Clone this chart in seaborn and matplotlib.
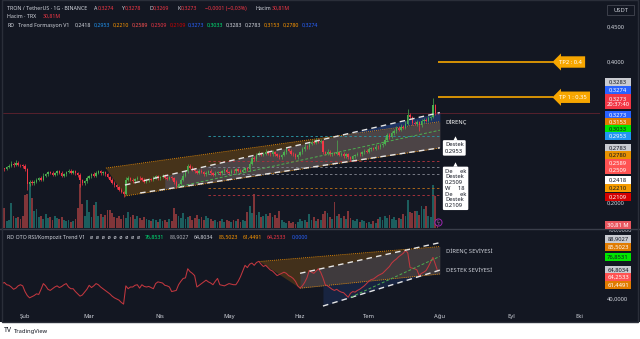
import numpy as np
import pandas as pd
import matplotlib
matplotlib.use("Agg")
import matplotlib.pyplot as plt
import seaborn as sns
from matplotlib.patches import Rectangle, Polygon
from matplotlib.lines import Line2D

# ---------------- data ----------------
start_date = "2025-01-21"
first_open = 0.2530
close = [
    0.2525, 0.2490, 0.2480, 0.2510, 0.2530, 0.2560, 0.2545, 0.2570, 0.2540, 0.2535, 0.2520,
    0.2480, 0.2270, 0.2300, 0.2280, 0.2300, 0.2330, 0.2350, 0.2330, 0.2390,
    0.2410, 0.2440, 0.2430, 0.2400, 0.2420, 0.2450, 0.2430, 0.2390, 0.2410, 0.2440, 0.2460, 0.2430, 0.2450, 0.2420,
    0.2400, 0.2320, 0.2280, 0.2310, 0.2360, 0.2380, 0.2410, 0.2390, 0.2430, 0.2450, 0.2420, 0.2440, 0.2410,
    0.2370, 0.2330, 0.2290, 0.2250, 0.2220, 0.2190, 0.2160, 0.2130, 0.2330, 0.2350,
    0.2330, 0.2310, 0.2340, 0.2360, 0.2350, 0.2330, 0.2300, 0.2320, 0.2340, 0.2330, 0.2360, 0.2380, 0.2350, 0.2370,
    0.2390, 0.2360, 0.2340, 0.2370, 0.2350,
    0.2300, 0.2240, 0.2270, 0.2330, 0.2390, 0.2450, 0.2520,
    0.2500, 0.2480, 0.2450, 0.2430, 0.2460, 0.2440, 0.2410, 0.2430, 0.2450, 0.2420, 0.2400, 0.2430, 0.2440, 0.2420,
    0.2450, 0.2470, 0.2440, 0.2430, 0.2460, 0.2450, 0.2480, 0.2460, 0.2440, 0.2470, 0.2490,
    0.2480, 0.2560, 0.2640, 0.2620, 0.2680, 0.2710, 0.2680, 0.2700, 0.2730, 0.2700, 0.2690, 0.2720, 0.2690, 0.2670,
    0.2650, 0.2680, 0.2720,
    0.2760, 0.2740, 0.2700, 0.2690, 0.2650, 0.2680, 0.2720, 0.2760, 0.2800, 0.2790, 0.2840, 0.2870, 0.2850, 0.2890,
    0.2870, 0.2880,
    0.2720, 0.2700, 0.2730, 0.2690, 0.2710, 0.2700, 0.2720, 0.2680, 0.2700, 0.2660, 0.2690, 0.2650, 0.2620, 0.2660,
    0.2680, 0.2700, 0.2690, 0.2720, 0.2740, 0.2730,
    0.2760, 0.2780, 0.2770, 0.2800, 0.2790, 0.2820, 0.2840, 0.2900, 0.2960, 0.2940, 0.2990, 0.3020, 0.3060, 0.3040,
    0.3080, 0.3070, 0.3120, 0.3250, 0.3220, 0.3140, 0.3120, 0.3150, 0.3100, 0.3160, 0.3180, 0.3170, 0.3200, 0.3220,
    0.3390, 0.3274, 0.3273,
]
# wick lengths above / below the candle body, in thousandths of a USDT
up_wick = [
    2, 2, 1, 2, 3, 3, 2, 4, 2, 2, 2, 3, 1, 2, 3, 2, 2, 2, 3, 3, 2, 2, 2, 3,
    2, 2, 2, 3, 2, 2, 2, 2, 2, 2, 2, 2, 2, 2, 3, 2, 2, 3, 2, 2, 2, 2, 2, 2,
    2, 2, 2, 2, 2, 2, 1, 4, 3, 2, 2, 2, 2, 2, 2, 3, 2, 2, 2, 3, 2, 2, 2, 2,
    2, 2, 2, 2, 2, 2, 2, 2, 3, 2, 3, 4, 2, 2, 2, 2, 2, 2, 2, 2, 3, 2, 2, 2,
    2, 2, 3, 2, 2, 2, 2, 2, 2, 2, 2, 2, 2, 3, 3, 2, 3, 3, 2, 2, 3, 2, 2, 3,
    2, 2, 2, 2, 3, 3, 2, 2, 2, 2, 2, 2, 3, 3, 2, 3, 3, 2, 3, 2, 3, 2, 2, 3,
    2, 2, 2, 17, 2, 2, 2, 2, 2, 2, 2, 2, 2, 2, 2, 3, 2, 3, 2, 2, 3, 2, 3, 3,
    3, 3, 3, 3, 3, 3, 3, 4, 3, 4, 8, 3, 2, 3, 3, 2, 3, 2, 3, 3, 2, 10, 1, 0.4,
]
down_wick = [
    2, 2, 2, 1, 2, 2, 3, 2, 2, 2, 2, 2, 8, 3, 2, 2, 2, 2, 2, 2, 2, 2, 2, 2,
    2, 2, 2, 2, 2, 2, 2, 2, 2, 2, 3, 9, 3, 2, 2, 2, 2, 2, 2, 2, 2, 2, 2, 2,
    2, 2, 2, 2, 2, 2, 4, 2, 2, 2, 2, 2, 2, 2, 2, 2, 2, 2, 2, 2, 2, 2, 2, 2,
    2, 2, 2, 2, 3, 3, 2, 2, 2, 2, 2, 2, 2, 2, 2, 2, 2, 2, 2, 2, 2, 2, 2, 2,
    2, 2, 2, 2, 2, 2, 2, 2, 2, 2, 2, 2, 3, 2, 2, 2, 2, 2, 2, 2, 2, 2, 2, 2,
    2, 2, 2, 2, 2, 2, 2, 2, 3, 3, 2, 2, 2, 2, 2, 2, 2, 2, 2, 2, 2, 3, 2, 2,
    2, 2, 2, 2, 2, 2, 2, 2, 3, 3, 2, 2, 2, 2, 2, 2, 2, 2, 2, 2, 2, 2, 2, 2,
    2, 2, 3, 2, 2, 2, 2, 2, 2, 2, 2, 3, 3, 2, 3, 8, 2, 2, 2, 2, 2, 2, 2, 0.4,
]
volume_m = [
    84, 182, 140, 49, 56, 175, 84, 70, 77, 63, 84, 231, 238, 308, 210, 119, 133, 77, 84, 63, 98, 70, 77, 56,
    84, 70, 63, 77, 56, 49, 56, 42, 49, 63, 140, 308, 168, 84, 196, 112, 77, 161, 182, 84, 98, 77, 91, 126,
    126, 105, 77, 70, 84, 63, 91, 70, 112, 77, 91, 63, 84, 70, 56, 77, 63, 56, 49, 63, 56, 42, 63, 49,
    56, 42, 63, 49, 140, 98, 84, 70, 105, 63, 77, 84, 56, 70, 91, 63, 77, 56, 84, 70, 63, 49, 56, 42,
    49, 63, 42, 56, 49, 42, 56, 49, 63, 42, 56, 49, 112, 154, 105, 238, 91, 112, 77, 84, 98, 84, 105, 77,
    91, 70, 119, 56, 42, 35, 49, 35, 42, 28, 42, 63, 49, 56, 42, 98, 56, 77, 49, 63, 56, 98, 119, 105,
    77, 63, 182, 84, 98, 70, 84, 63, 119, 70, 56, 49, 63, 42, 56, 49, 35, 42, 28, 49, 35, 63, 77, 56,
    84, 70, 91, 63, 77, 56, 70, 63, 98, 84, 196, 112, 105, 119, 119, 91, 154, 133, 154, 84, 77, 301, 224, 30.81,
]
rsi = [
    52, 53, 54, 52, 51.5, 50, 48, 49, 51, 52, 51, 46, 42.5, 40.5, 41.5, 42.5, 44, 43.5, 48, 53, 51, 48, 47, 48.5,
    50, 51, 49.5, 50.5, 52, 53, 50, 48.5, 48.5, 46, 44, 42, 43, 45.5, 48, 51.5, 49.5, 51, 53, 52, 50, 48.5, 47, 45.5,
    44, 42, 40.5, 39.5, 38.5, 36.5, 35, 51, 48.5, 50, 50, 51.5, 52, 49, 52, 50.5, 50, 50.5, 49.5, 48.5, 53, 54.5, 54, 53.5,
    51.5, 51, 50, 46, 46.5, 47, 52, 55, 57.5, 58, 66, 63.5, 62, 60, 50, 51.5, 53, 54.5, 56, 54.5, 53.5, 52, 55, 57.5,
    52, 51.5, 51, 52, 53, 52.5, 52, 52, 55, 59, 64, 69, 67, 70, 71, 69, 71.5, 72.5, 70, 68, 69, 67, 65, 64,
    62, 60, 61, 62, 63, 62, 60, 59, 57.5, 55, 51, 49, 51, 54, 58, 64.5, 63, 62, 64, 66, 63, 58, 52, 51,
    49.5, 48, 47, 48, 46.5, 45.5, 45, 43, 41, 44.5, 46, 45.5, 47, 48, 49.5, 51, 53, 55, 56.5, 57, 58.5, 60, 61, 62,
    64, 66, 68, 71, 73, 74.5, 76.5, 78, 79.5, 82, 80, 67, 66.5, 66, 65, 60, 62, 63, 64.5, 68, 72, 76, 70, 64.2533,
]

# overlay lines: (day index, value) end points
price_upper_white = [(54.6, 0.2255), (192.0, 0.3283)]
price_lower_white = [(61.2, 0.2142), (192.0, 0.2783)]
price_green = [(77.3, 0.2227), (192.0, 0.3033)]
price_orange_top = [(46.3, 0.2496), (192.0, 0.3153)]
price_orange_bot = [(54.6, 0.2099), (192.0, 0.2780)]
support_levels = [0.2953, 0.2589, 0.2509, 0.2418, 0.2210, 0.2109]
support_colors = ["#2a8f9c", "#a5313b", "#787b86", "#787b86", "#a8661c", "#a5313b"]
support_start = 90.8
tp_levels = [0.40, 0.35]
tp_names = ["TP2 : 0.4", "TP 1 : 0.35"]
tp_span = (191.0, 241.4)

rsi_upper_white = [(131.0, 62.0), (192.0, 88.9027)]
rsi_lower_white = [(141.0, 33.3), (192.0, 64.8034)]
rsi_green = [(153.2, 41.1), (192.0, 76.8531)]
rsi_orange_top = [(113.3, 72.4), (192.0, 85.5023)]
rsi_orange_bot = [(131.0, 49.0), (192.0, 61.4491)]
rsi_texts = [("DİRENÇ SEVİYESİ", 81.1), ("DESTEK SEVİYESİ", 64.6)]

month_names = ["Şub", "Mar", "Nis", "May", "Haz", "Tem", "Ağu", "Eyl", "Eki"]
price_ticks = [0.45, 0.40, 0.20]
rsi_ticks = [100, 40]

price_tags = [
    ("0,3283", 82, "#c9cbd1", "#131722"), ("0,3274", 90, "#2962ff", "white"),
    ("0,3273\n20:37:40", 102, "#f23645", "white"), ("0,3273", 115, "#2962ff", "white"),
    ("0,3153", 122, "#e07b00", "white"), ("0,3033", 129, "#00e600", "#131722"),
    ("0,2953", 136, "#2196f3", "white"), ("0,2783", 148, "#c9cbd1", "#131722"),
    ("0,2780", 155, "#e89200", "#131722"), ("0,2589", 163, "#ff5252", "white"),
    ("0,2509", 170, "#ff5252", "white"), ("0,2418", 180, "#ffffff", "#131722"),
    ("0,2210", 188, "#f59b00", "#131722"), ("0,2109", 197, "#d50000", "white"),
    ("30,81 M", 225, "#e8575f", "white"),
    ("88,9027", 239, "#c9cbd1", "#131722"), ("85,5023", 247, "#e07b00", "white"),
    ("76,8531", 257, "#00e600", "#131722"), ("64,8034", 270, "#c9cbd1", "#131722"),
    ("64,2533", 277, "#ff5252", "white"), ("61,4491", 285, "#e07b00", "white"),
]
trend_values = ["0,2418", "0,2953", "0,2210", "0,2589", "0,2509", "0,2109", "0,3273",
                "0,3033", "0,3283", "0,2783", "0,3153", "0,2780", "0,3274"]
trend_colors = ["#d1d4dc", "#2196f3", "#ff9800", "#ff5252", "#f23645", "#d50000", "#2962ff",
                "#00e676", "#d1d4dc", "#d1d4dc", "#ff9800", "#ff9800", "#2962ff"]
rsi_values = ["76,8531", "88,9027", "64,8034", "85,5023", "61,4491", "64,2533", "0,0000"]
rsi_value_colors = ["#00e676", "#b2b5be", "#d1d4dc", "#ff9800", "#ff9800", "#f23645", "#2962ff"]

# ---------------- style ----------------
BG = "#131722"
FG = "#d1d4dc"
RED = "#f23645"
GREEN = "#4caf50"
FS = 4.2
FS_H = 3.8
sns.set_theme(style="dark", rc={"axes.facecolor": BG, "figure.facecolor": "white",
                                 "axes.grid": False})
plt.rcParams["font.family"] = ["Noto Sans", "DejaVu Sans"]

W, H = 640, 339
fig = plt.figure(figsize=(6.4, 3.39), dpi=100)


def fx(x):
    return x / W


def fy(y):
    return 1 - y / H


def rect_px(x0, y0, x1, y1):
    return [x0 / W, 1 - y1 / H, (x1 - x0) / W, (y1 - y0) / H]


fig.add_artist(Rectangle((0, fy(322)), 1, 322 / H, transform=fig.transFigure,
                         facecolor=BG, edgecolor="none", zorder=-10))

dates = pd.date_range(start_date, periods=len(close), freq="D")
t = np.asarray((dates - dates[0]).days, dtype=float)
c = np.asarray(close)
o = np.r_[first_open, c[:-1]]
hi = np.maximum(o, c) + np.asarray(up_wick) / 1000
lo = np.minimum(o, c) - np.asarray(down_wick) / 1000
up = c >= o

ax_vol = fig.add_axes(rect_px(3, 3, 600, 228))
ax = fig.add_axes(rect_px(3, 3, 600, 228), sharex=ax_vol)
ax_rsi = fig.add_axes(rect_px(3, 230, 600, 310), sharex=ax_vol)
ax.patch.set_visible(False)
for a in (ax_vol, ax, ax_rsi):
    for s in a.spines.values():
        s.set_visible(False)

# ---- volume (seaborn bars) ----
vol_df = pd.DataFrame({"t": t, "vol": volume_m, "dir": np.where(up, "up", "down")})
sns.barplot(data=vol_df, x="t", y="vol", hue="dir", native_scale=True, dodge=False,
            palette={"up": "#26a69a", "down": "#ef5350"}, saturation=1, alpha=0.5,
            width=0.8, legend=False, ax=ax_vol, linewidth=0, err_kws={"linewidth": 0})
ax_vol.set_ylim(0, 1575)
ax_vol.set_yticks([])
ax_vol.set_xlabel("")
ax_vol.set_ylabel("")
ax_vol.tick_params(labelbottom=False, length=0)

# ---- price overlays ----
def seg(pts, tt):
    (x0, y0), (x1, y1) = pts
    return y0 + (y1 - y0) * (tt - x0) / (x1 - x0)


ax.add_patch(Polygon([price_orange_top[0], price_orange_top[1], price_orange_bot[1], price_orange_bot[0]],
                     closed=True, facecolor="#ff9800", alpha=0.22, edgecolor="none", zorder=1))
tt = np.linspace(72, 192, 300)
ax.fill_between(tt, seg(price_lower_white, tt),
                np.minimum(seg(price_upper_white, tt), seg(price_orange_top, tt)),
                color="#4d4649", alpha=0.95, lw=0, zorder=1.5)
tb = np.linspace(148.4, 192, 100)
ax.fill_between(tb, seg(price_orange_top, tb), seg(price_upper_white, tb),
                color="#1f3566", alpha=0.95, lw=0, zorder=1.5)

for pts in (price_orange_top, price_orange_bot):
    ax.plot(*zip(*pts), color="#ff9800", lw=0.6, ls=(0, (1, 1.5)), zorder=2)
ax.plot(*zip(*price_upper_white), color="#e6e6e6", lw=1.0, ls=(0, (4, 3)), zorder=6)
ax.plot(*zip(*price_lower_white), color="#e6e6e6", lw=1.0, ls=(0, (4, 3)), zorder=6)
ax.plot(*zip(*price_green), color="#4caf50", lw=0.7, ls=(0, (3, 2)), zorder=6)
ax.hlines(support_levels, support_start, 192, colors=support_colors, lw=0.7,
          linestyles=(0, (2.5, 2.5)), zorder=2)
ax.axhline(c[-1], color=RED, alpha=0.35, lw=0.6, zorder=2)
ax.hlines(tp_levels, tp_span[0], tp_span[1], colors="#f7a600", lw=1.2, zorder=3)

# ---- candles ----
cols = np.where(up, GREEN, RED)
ax.vlines(t, lo, hi, colors=cols, lw=0.5, zorder=4)
ax.bar(t, c - o, bottom=o, width=0.62, color=cols, linewidth=0, zorder=5)

ax.set_xlim(1.40, 261.87)
ax.set_ylim(0.16454, 0.48369)
ax.yaxis.tick_right()
ax.set_yticks(price_ticks)
ax.set_yticklabels([f"{v:.4f}".replace(".", ",") for v in price_ticks])
ax.tick_params(axis="y", length=0, pad=5, labelsize=FS, labelcolor=FG)
ax.tick_params(axis="x", labelbottom=False, length=0)

for lvl, name in zip(tp_levels, tp_names):
    ax.text(244.0, lvl, name, fontsize=FS, color="white", ha="left", va="center", zorder=8,
            bbox=dict(boxstyle="larrow,pad=0.55", fc="#f7a600", ec="none"))
ax.text(194.6, 0.3153, "DİRENÇ", fontsize=FS, color="white", ha="left", va="center", zorder=8)
ax.annotate("Destek\n0.2953", xy=(194.2, 0.2953), xytext=(0, -4.6), textcoords="offset points",
            fontsize=FS, color="#131722", ha="left", va="top", linespacing=1.35, zorder=8,
            bbox=dict(boxstyle="round,pad=0.35,rounding_size=0.2", fc="white", ec="none"))
ax.annotate("De     ek\nDestek\n0.2509\nW     18\nDe     ek\nDestek\n0.2109", xy=(194.2, 0.2589),
            xytext=(0, -5.2), textcoords="offset points", fontsize=FS, color="#131722",
            ha="left", va="top", linespacing=1.18, zorder=8,
            bbox=dict(boxstyle="round,pad=0.35,rounding_size=0.2", fc="white", ec="none"))
ax.scatter([198.5, 198.5], [0.2953 - 0.0030, 0.2589 - 0.0030], marker="^", s=10,
           color="white", zorder=9, linewidths=0)
ax.scatter([191.2], [0.1727], s=26, facecolors=BG, edgecolors="#9c27b0", linewidths=0.7, zorder=9)
ax.text(191.2, 0.1727, "ϟ", fontsize=3.6, color="#ba68c8", ha="center", va="center", zorder=10)

# ---- RSI panel ----
sns.lineplot(x=t, y=rsi, ax=ax_rsi, color="#c2373f", lw=0.75, zorder=5)
ax_rsi.add_patch(Polygon([rsi_orange_top[0], rsi_orange_top[1], rsi_orange_bot[1], rsi_orange_bot[0]],
                         closed=True, facecolor="#ff9800", alpha=0.2, edgecolor="none", zorder=1))
tr = np.linspace(131, 192, 200)
ax_rsi.fill_between(tr, seg(rsi_orange_bot, tr),
                    np.minimum(seg(rsi_upper_white, tr), seg(rsi_orange_top, tr)),
                    color="#3f3b40", alpha=0.95, lw=0, zorder=1.5)
trb = np.linspace(141, 183.9, 120)
ax_rsi.fill_between(trb, seg(rsi_lower_white, trb), seg(rsi_orange_bot, trb),
                    color="#1f3566", alpha=0.45, lw=0, zorder=1.5)
for pts in (rsi_orange_top, rsi_orange_bot):
    ax_rsi.plot(*zip(*pts), color="#ff9800", lw=0.6, ls=(0, (1, 1.5)), zorder=2)
ax_rsi.plot(*zip(*rsi_upper_white), color="#e6e6e6", lw=1.0, ls=(0, (4, 3)), zorder=6)
ax_rsi.plot(*zip(*rsi_lower_white), color="#e6e6e6", lw=1.0, ls=(0, (4, 3)), zorder=6)
ax_rsi.plot(*zip(*rsi_green), color="#4caf50", lw=0.7, ls=(0, (3, 2)), zorder=6)
for txt, lvl in rsi_texts:
    ax_rsi.text(194.6, lvl, txt, fontsize=FS, color=FG, ha="left", va="center")
ax_rsi.set_ylim(29.83, 99.39)
ax_rsi.yaxis.tick_right()
ax_rsi.set_yticks(rsi_ticks)
ax_rsi.set_yticklabels([f"{v:.4f}".replace(".", ",") for v in rsi_ticks])
ax_rsi.tick_params(axis="y", length=0, pad=5, labelsize=FS, labelcolor=FG)
month_starts = pd.date_range("2025-02-01", periods=len(month_names), freq="MS")
ax_rsi.set_xticks(np.asarray((month_starts - dates[0]).days, dtype=float))
ax_rsi.set_xticklabels(month_names)
ax_rsi.tick_params(axis="x", length=0, pad=3.2, labelsize=FS, labelcolor=FG)
ax_rsi.set_xlabel("")
ax_rsi.set_ylabel("")
ax_rsi.set_xlim(1.40, 261.87)

# ---- frame, separators ----
fig.add_artist(Line2D([0, 1], [fy(229), fy(229)], transform=fig.transFigure, color="#3a3e4a", lw=1))
fig.add_artist(Rectangle((fx(2), fy(322)), fx(636), 322 / H, transform=fig.transFigure,
                         fill=False, edgecolor="#2a2e39", lw=1, zorder=3))

# ---- right-side value tags ----
for text, yc, bg, fg in price_tags:
    h = 15 if "\n" in text else 8
    fig.add_artist(Rectangle((fx(605), fy(yc + h / 2)), 26 / W, h / H, transform=fig.transFigure,
                             facecolor=bg, edgecolor="none", zorder=5))
    fig.text(fx(618), fy(yc), text, fontsize=FS, color=fg, ha="center", va="center",
             linespacing=1.2, zorder=6)
fig.add_artist(Rectangle((fx(607), fy(15)), 27 / W, 10 / H, transform=fig.transFigure,
                         facecolor=BG, edgecolor="#434651", lw=0.6, zorder=5))
fig.text(fx(620.5), fy(10), "USDT", fontsize=FS, color=FG, ha="center", va="center", zorder=6)

# ---- header text runs ----
renderer = fig.canvas.get_renderer()


def runs(x, y, parts):
    for s, col, gap in parts:
        x += gap
        tx = fig.text(fx(x), fy(y), s, color=col, fontsize=FS_H, ha="left", va="center", zorder=7)
        x += tx.get_window_extent(renderer=renderer).width


runs(7, 8.5, [("TRON / TetherUS · 1G · BINANCE", FG, 0), ("A", FG, 7), ("0,3274", RED, 0),
              ("Y", FG, 8), ("0,3278", RED, 0), ("D", FG, 8), ("0,3269", RED, 0),
              ("K", FG, 8), ("0,3273", RED, 0), ("−0,0001 (−0,03%)", RED, 8),
              ("Hacim", FG, 9), ("30,81M", RED, 0)])
runs(7, 16.5, [("Hacim · TRX", FG, 0), ("30,81M", RED, 6)])
runs(7, 25.5, [("RD", FG, 0), ("Trend Formasyon V1", FG, 4)] +
     [(v, col, 5.5 if k == 0 else 2.5) for k, (v, col) in enumerate(zip(trend_values, trend_colors))])
runs(7, 237.5, [("RD OTO RSI/Kompozit Trend V1", FG, 0), ("ø  ø  ø  ø  ø  ø  ø  ø  ø", FG, 5)] +
     [(v, col, 5) for v, col in zip(rsi_values, rsi_value_colors)])

# ---- footer ----
fig.text(fx(4), fy(331), "TV", fontsize=5, fontweight="bold", color="#131722", ha="left", va="center")
fig.text(fx(14), fy(331), "TradingView", fontsize=FS, color="#131722", ha="left", va="center")

fig.savefig("out.png", dpi=100, facecolor="white")
